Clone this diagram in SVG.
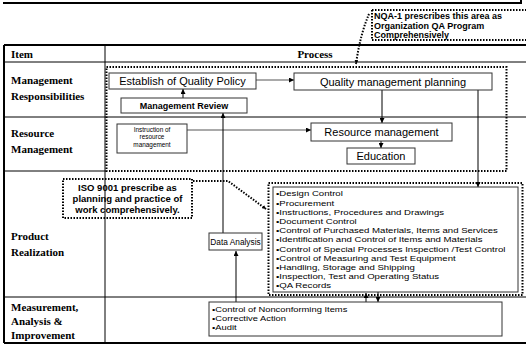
<svg xmlns="http://www.w3.org/2000/svg" width="526" height="345" viewBox="0 0 526 345">
<defs>
<marker id="ah" markerWidth="5" markerHeight="5" refX="5" refY="2.5" orient="auto" markerUnits="userSpaceOnUse"><path d="M0,0 L5,2.5 L0,5 z" fill="#000"/></marker>
<marker id="ahs" markerWidth="4" markerHeight="4" refX="4" refY="2" orient="auto" markerUnits="userSpaceOnUse"><path d="M0,0 L4,2 L0,4 z" fill="#000"/></marker>
</defs>
<style>
.tl{stroke:#000;stroke-width:1;fill:none}
.tk{stroke:#000;stroke-width:2;fill:none}
.dot{stroke:#000;stroke-width:2;stroke-dasharray:1.5 1.5;fill:none}
.box{fill:#fff;stroke:#333;stroke-width:1}
.lbl{font-family:"Liberation Serif","Times New Roman",serif;font-weight:bold;font-size:11px;fill:#000}
.t{font-family:"Liberation Sans",Arial,sans-serif;fill:#000}
.c{stroke:#000;stroke-width:1;fill:none}
.cg{stroke:#555;stroke-width:1;fill:none}
</style>

<g id="frame">
<path class="tk" d="M3,3 H521 V0"/>
<path class="tk" d="M4,45 H526 M4,45 V343 M4,343 H526"/>
<path class="tl" d="M4,62 H526 M4,117 H526 M4,171 H106 M4,297 H526 M105,45 V343"/>
</g>

<g id="labels">
<text class="lbl" x="11" y="58">Item</text>
<text class="lbl" x="315" y="58" text-anchor="middle">Process</text>
<text class="lbl" x="11" y="84">Management</text>
<text class="lbl" x="11" y="100">Responsibilities</text>
<text class="lbl" x="11" y="137">Resource</text>
<text class="lbl" x="11" y="153">Management</text>
<text class="lbl" x="11" y="240">Product</text>
<text class="lbl" x="11" y="256">Realization</text>
<text class="lbl" x="11" y="311">Measurement,</text>
<text class="lbl" x="11" y="325">Analysis &amp;</text>
<text class="lbl" x="11" y="339">Improvement</text>
</g>

<g id="nqa-area">
<rect class="dot" x="106.5" y="67" width="400" height="104"/>
</g>

<g id="nqa-callout">
<path class="dot" d="M372,10 H526 M372,10 V40 H526"/>
<text class="t" font-size="9" font-weight="bold" x="374" y="18.5">NQA-1 prescribes this area as</text>
<text class="t" font-size="9" font-weight="bold" x="374" y="28.5">Organization QA  Program</text>
<text class="t" font-size="9" font-weight="bold" x="374" y="38">Comprehensively</text>
</g>

<g id="connectors">
<path class="dot" d="M369,14 Q360,35 356,64" marker-end="url(#ahs)"/>
<path class="cg" d="M256,80 H294" marker-end="url(#ah)"/>
<path class="c" d="M183,98 V89" marker-end="url(#ah)"/>
<path class="c" d="M382,90 V123" marker-end="url(#ah)"/>
<path class="cg" d="M187,130 H311" marker-end="url(#ah)"/>
<path class="c" d="M381,141 V148" marker-end="url(#ah)"/>
<path class="c" d="M478,90 V187" marker-end="url(#ah)"/>
<path class="c" d="M223,233 V113" marker-end="url(#ah)"/>
<path class="c" d="M236,302 V251" marker-end="url(#ah)"/>
<path class="c" d="M366,302 V293" marker-end="url(#ah)"/>
<path class="c" d="M378,292 V302" marker-end="url(#ah)"/>
<path class="dot" d="M193,181 H228 L266,209" marker-end="url(#ahs)"/>
</g>

<g id="establish">
<rect class="box" x="109" y="73" width="147" height="16"/>
<text class="t" font-size="11" x="182.5" y="85" text-anchor="middle">Establish of Quality Policy</text>
</g>
<g id="qmp">
<rect class="box" x="294" y="73" width="198" height="17"/>
<text class="t" font-size="11" x="393" y="85.5" text-anchor="middle">Quality management planning</text>
</g>
<g id="mgmt-review">
<rect class="box" x="121" y="98" width="126" height="15"/>
<text class="t" font-size="9" font-weight="bold" x="184" y="109" text-anchor="middle">Management Review</text>
</g>
<g id="instruction">
<rect class="box" x="117" y="124" width="70" height="29"/>
<text class="t" font-size="6.4" x="152" y="131.5" text-anchor="middle">Instruction of</text>
<text class="t" font-size="6.4" x="152" y="139.1" text-anchor="middle">resource</text>
<text class="t" font-size="6.4" x="152" y="146.7" text-anchor="middle">management</text>
</g>
<g id="resource-mgmt">
<rect class="box" x="311" y="123" width="141" height="18"/>
<text class="t" font-size="11" x="381.5" y="136" text-anchor="middle">Resource management</text>
</g>
<g id="education">
<rect class="box" x="347" y="148" width="68" height="16"/>
<text class="t" font-size="11" x="381" y="160" text-anchor="middle">Education</text>
</g>

<g id="iso-callout">
<rect class="dot" x="63" y="179" width="129" height="39" fill="#fff"/>
<text class="t" font-size="9.5" font-weight="bold" x="127.5" y="191" text-anchor="middle">ISO 9001  prescribe as</text>
<text class="t" font-size="9.5" font-weight="bold" x="127.5" y="202.2" text-anchor="middle">planning and practice of</text>
<text class="t" font-size="9.5" font-weight="bold" x="127.5" y="213.4" text-anchor="middle">work  comprehensively.</text>
</g>

<g id="data-analysis">
<rect class="box" x="209" y="233" width="53" height="17"/>
<text class="t" font-size="8.3" x="235.5" y="244.5" text-anchor="middle">Data Analysis</text>
</g>

<g id="realization-list">
<rect class="dot" x="268.5" y="183" width="254" height="112"/>
<rect class="box" x="273" y="187" width="245" height="105"/>
<g class="t" font-size="8" transform="translate(276,0) scale(1.2,1)">
<text x="0" y="196.5">•Design Control</text>
<text x="0" y="205.7">•Procurement</text>
<text x="0" y="214.9">•Instructions, Procedures and Drawings</text>
<text x="0" y="224.1">•Document Control</text>
<text x="0" y="233.3">•Control of Purchased Materials, Items and Services</text>
<text x="0" y="242.5">•Identification and Control of Items and Materials</text>
<text x="0" y="251.7">•Control of Special Processes Inspection /Test Control</text>
<text x="0" y="260.9">•Control of Measuring and Test Equipment</text>
<text x="0" y="270.1">•Handling, Storage and Shipping</text>
<text x="0" y="279.3">•Inspection, Test and Operating Status</text>
<text x="0" y="288.5">•QA Records</text>
</g>
</g>

<g id="measurement">
<rect class="box" x="209" y="302" width="293" height="34"/>
<g class="t" font-size="7.8" transform="translate(212,0) scale(1.2,1)">
<text x="0" y="312">•Control of Nonconforming Items</text>
<text x="0" y="321">•Corrective Action</text>
<text x="0" y="330">•Audit</text>
</g>
</g>
</svg>
